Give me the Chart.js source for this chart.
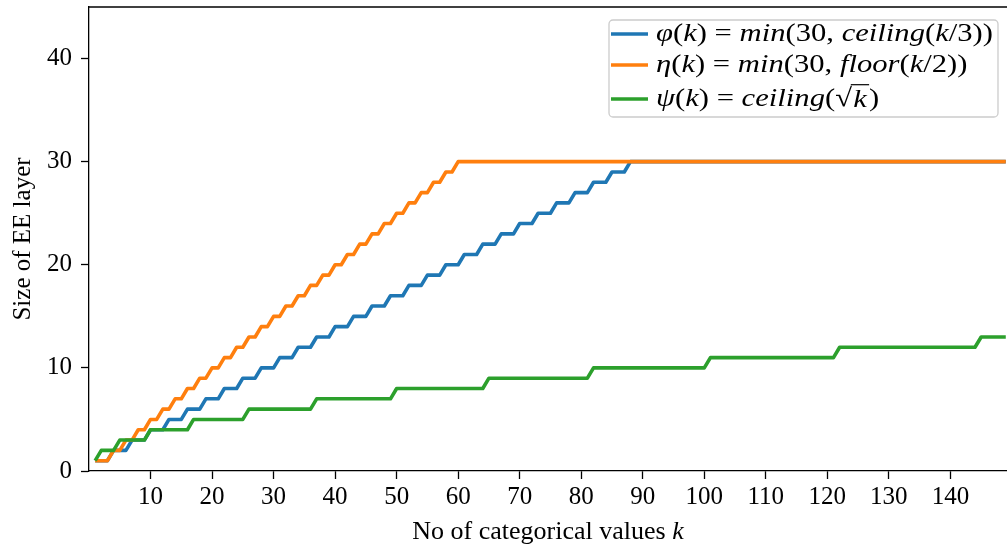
<!DOCTYPE html>
<html>
<head>
<meta charset="utf-8">
<script src="https://cdn.jsdelivr.net/npm/chart.js@4.4.1/dist/chart.umd.min.js"></script>
<style>
  html, body { margin: 0; padding: 0; background: #fff; }
  #wrap { width: 1007px; height: 550px; }
</style>
</head>
<body>
<div id="wrap"><canvas id="chart"></canvas></div>
<script>
// k runs from 1 to 149, one value per k
const kFirst = 1;

// phi(k) = min(30, ceiling(k/3))
const phiValues = [
    1, 1, 1, 2, 2, 2, 3, 3, 3, 4, 4, 4, 5, 5, 5, 6, 6, 6, 7, 7, 7, 8, 8, 8, 9, 9, 9, 10, 10, 10,
    11, 11, 11, 12, 12, 12, 13, 13, 13, 14, 14, 14, 15, 15, 15, 16, 16, 16, 17, 17, 17, 18, 18, 18, 19, 19, 19, 20, 20, 20,
    21, 21, 21, 22, 22, 22, 23, 23, 23, 24, 24, 24, 25, 25, 25, 26, 26, 26, 27, 27, 27, 28, 28, 28, 29, 29, 29, 30, 30, 30,
    30, 30, 30, 30, 30, 30, 30, 30, 30, 30, 30, 30, 30, 30, 30, 30, 30, 30, 30, 30, 30, 30, 30, 30, 30, 30, 30, 30, 30, 30,
    30, 30, 30, 30, 30, 30, 30, 30, 30, 30, 30, 30, 30, 30, 30, 30, 30, 30, 30, 30, 30, 30, 30, 30, 30, 30, 30, 30, 30
];

// eta(k) = min(30, floor(k/2))
const etaValues = [
    1, 1, 1, 2, 2, 3, 3, 4, 4, 5, 5, 6, 6, 7, 7, 8, 8, 9, 9, 10, 10, 11, 11, 12, 12, 13, 13, 14, 14, 15,
    15, 16, 16, 17, 17, 18, 18, 19, 19, 20, 20, 21, 21, 22, 22, 23, 23, 24, 24, 25, 25, 26, 26, 27, 27, 28, 28, 29, 29, 30,
    30, 30, 30, 30, 30, 30, 30, 30, 30, 30, 30, 30, 30, 30, 30, 30, 30, 30, 30, 30, 30, 30, 30, 30, 30, 30, 30, 30, 30, 30,
    30, 30, 30, 30, 30, 30, 30, 30, 30, 30, 30, 30, 30, 30, 30, 30, 30, 30, 30, 30, 30, 30, 30, 30, 30, 30, 30, 30, 30, 30,
    30, 30, 30, 30, 30, 30, 30, 30, 30, 30, 30, 30, 30, 30, 30, 30, 30, 30, 30, 30, 30, 30, 30, 30, 30, 30, 30, 30, 30
];

// psi(k) = ceiling(sqrt(k))
const psiValues = [
    1, 2, 2, 2, 3, 3, 3, 3, 3, 4, 4, 4, 4, 4, 4, 4, 5, 5, 5, 5, 5, 5, 5, 5, 5, 6, 6, 6, 6, 6,
    6, 6, 6, 6, 6, 6, 7, 7, 7, 7, 7, 7, 7, 7, 7, 7, 7, 7, 7, 8, 8, 8, 8, 8, 8, 8, 8, 8, 8, 8,
    8, 8, 8, 8, 9, 9, 9, 9, 9, 9, 9, 9, 9, 9, 9, 9, 9, 9, 9, 9, 9, 10, 10, 10, 10, 10, 10, 10, 10, 10,
    10, 10, 10, 10, 10, 10, 10, 10, 10, 10, 11, 11, 11, 11, 11, 11, 11, 11, 11, 11, 11, 11, 11, 11, 11, 11, 11, 11, 11, 11,
    11, 12, 12, 12, 12, 12, 12, 12, 12, 12, 12, 12, 12, 12, 12, 12, 12, 12, 12, 12, 12, 12, 12, 12, 13, 13, 13, 13, 13
];

const xTicks = [10, 20, 30, 40, 50, 60, 70, 80, 90, 100, 110, 120, 130, 140];
const yTicks = [0, 10, 20, 30, 40];

const xTitle = 'No of categorical values ';
const yTitle = 'Size of EE layer';

// legend rows: [text, style] pieces; 'i' italic, 'n' upright, 's' square root over italic
const legendRows = [
    { color: '#1f77b4', parts: [['φ', 'i'], ['(', 'n'], ['k', 'i'], [')', 'n'], [' = ', 'n'], ['min', 'i'], ['(30, ', 'n'], ['ceiling', 'i'], ['(', 'n'], ['k', 'i'], ['/3))', 'n']] },
    { color: '#ff7f0e', parts: [['η', 'i'], ['(', 'n'], ['k', 'i'], [')', 'n'], [' = ', 'n'], ['min', 'i'], ['(30, ', 'n'], ['floor', 'i'], ['(', 'n'], ['k', 'i'], ['/2))', 'n']] },
    { color: '#2ca02c', parts: [['ψ', 'i'], ['(', 'n'], ['k', 'i'], [')', 'n'], [' = ', 'n'], ['ceiling', 'i'], ['(', 'n'], ['k', 's'], [')', 'n']] }
];

const serif = '"Liberation Serif", "Times New Roman", serif';

const toPoints = values => values.map((v, i) => ({ x: kFirst + i, y: v }));

const frame = {
    id: 'frame',
    afterDatasetsDraw(chart) {
        const { ctx, chartArea } = chart;
        ctx.save();
        ctx.strokeStyle = '#000';
        ctx.lineWidth = 1.3;
        ctx.beginPath();
        ctx.moveTo(chartArea.left, chartArea.top);
        ctx.lineTo(chartArea.right + 2, chartArea.top);
        ctx.stroke();
        ctx.restore();
    }
};

// draws one legend row of mixed upright / italic pieces, returns its width
function drawParts(ctx, parts, x, y, size, draw) {
    let cx = x;
    parts.forEach(([text, style]) => {
        if (style === 's') {
            ctx.font = `${size}px ${serif}`;
            if (draw) ctx.fillText('√', cx, y);
            cx += ctx.measureText('√').width;
            ctx.font = `italic ${size}px ${serif}`;
            const tw = ctx.measureText(text).width + 3;
            if (draw) {
                ctx.fillText(text, cx + 1, y + 1);
                ctx.lineWidth = 1.2;
                ctx.beginPath();
                ctx.moveTo(cx - 1, y - size * 0.55);
                ctx.lineTo(cx + tw, y - size * 0.55);
                ctx.stroke();
            }
            cx += tw;
        } else {
            ctx.font = `${style === 'i' ? 'italic ' : ''}${size}px ${serif}`;
            if (draw) ctx.fillText(text, cx, y);
            cx += ctx.measureText(text).width;
        }
    });
    return cx - x;
}

const mathLegend = {
    id: 'mathLegend',
    afterDraw(chart) {
        const ctx = chart.ctx;
        const box = { x: 609, y: 20, w: 389, h: 97 };
        const rowY = [34, 65, 99];
        const size = 26;
        const textX = 656;
        const firstRowWidth = 337;

        ctx.save();
        ctx.beginPath();
        ctx.roundRect(box.x, box.y, box.w, box.h, 4);
        ctx.fillStyle = 'rgba(255, 255, 255, 0.8)';
        ctx.fill();
        ctx.strokeStyle = '#cccccc';
        ctx.lineWidth = 1.3;
        ctx.stroke();

        // math italic of the original is wider than Liberation Serif: stretch a little
        const natural = drawParts(ctx, legendRows[0].parts, 0, 0, size, false);
        const sx = firstRowWidth / natural;

        legendRows.forEach((row, r) => {
            const y = rowY[r];
            ctx.strokeStyle = row.color;
            ctx.lineWidth = 3.6;
            ctx.beginPath();
            ctx.moveTo(611, y);
            ctx.lineTo(648, y);
            ctx.stroke();

            ctx.save();
            ctx.translate(textX, 0);
            ctx.scale(sx, 1);
            ctx.fillStyle = '#000';
            ctx.strokeStyle = '#000';
            ctx.textBaseline = 'middle';
            drawParts(ctx, row.parts, 0, y, size, true);
            ctx.restore();
        });
        ctx.restore();
    }
};

const xTitleK = {
    id: 'xTitleK',
    afterDraw(chart) {
        // x axis title with an italic k at the end
        const ctx = chart.ctx;
        const area = chart.chartArea;
        ctx.save();
        ctx.font = `26px ${serif}`;
        const w1 = ctx.measureText(xTitle).width;
        ctx.font = `italic 26px ${serif}`;
        const w2 = ctx.measureText('k').width;
        const startX = (area.left + area.right) / 2 - (w1 + w2) / 2;
        ctx.fillStyle = '#000';
        ctx.textBaseline = 'middle';
        ctx.font = `26px ${serif}`;
        ctx.fillText(xTitle, startX, 532);
        ctx.font = `italic 26px ${serif}`;
        ctx.fillText('k', startX + w1, 532);
        ctx.restore();
    }
};

const lineStyle = color => ({
    borderColor: color,
    backgroundColor: color,
    borderWidth: 3.6,
    pointRadius: 0,
    tension: 0,
    borderJoinStyle: 'round',
    fill: false
});

new Chart(document.getElementById('chart'), {
    type: 'line',
    data: {
        datasets: [
            { label: 'phi', data: toPoints(phiValues), order: 2, ...lineStyle('#1f77b4') },
            { label: 'eta', data: toPoints(etaValues), order: 1, ...lineStyle('#ff7f0e') },
            { label: 'psi', data: toPoints(psiValues), order: 0, ...lineStyle('#2ca02c') }
        ]
    },
    options: {
        responsive: true,
        maintainAspectRatio: false,
        animation: false,
        events: [],
        layout: { padding: { top: 7, right: 0, left: 0, bottom: 0 } },
        plugins: {
            legend: { display: false },
            tooltip: { enabled: false }
        },
        scales: {
            x: {
                type: 'linear',
                min: 0,
                max: 149.2,
                afterBuildTicks: axis => { axis.ticks = xTicks.map(v => ({ value: v })); },
                afterFit: axis => {
                    axis.height = 79;
                    axis.paddingLeft = 0;
                    axis.paddingRight = 0;
                },
                grid: { drawOnChartArea: false, drawTicks: true, tickLength: 8, tickColor: '#000', tickWidth: 1.3 },
                border: { display: true, color: '#000', width: 1.3 },
                ticks: { color: '#000', font: { family: serif, size: 25 }, padding: 3, maxRotation: 0, autoSkip: false }
            },
            y: {
                min: 0,
                max: 45,
                afterBuildTicks: axis => { axis.ticks = yTicks.map(v => ({ value: v })); },
                afterFit: axis => {
                    axis.width = 89;
                    axis.paddingTop = 0;
                    axis.paddingBottom = 0;
                },
                grid: { drawOnChartArea: false, drawTicks: true, tickLength: 8, tickColor: '#000', tickWidth: 1.3 },
                border: { display: true, color: '#000', width: 1.3 },
                title: { display: true, text: yTitle, color: '#000', font: { family: serif, size: 25 }, padding: { top: 8, bottom: 0 } },
                ticks: { color: '#000', font: { family: serif, size: 25 }, padding: 9 }
            }
        }
    },
    plugins: [frame, xTitleK, mathLegend]
});
</script>
</body>
</html>
